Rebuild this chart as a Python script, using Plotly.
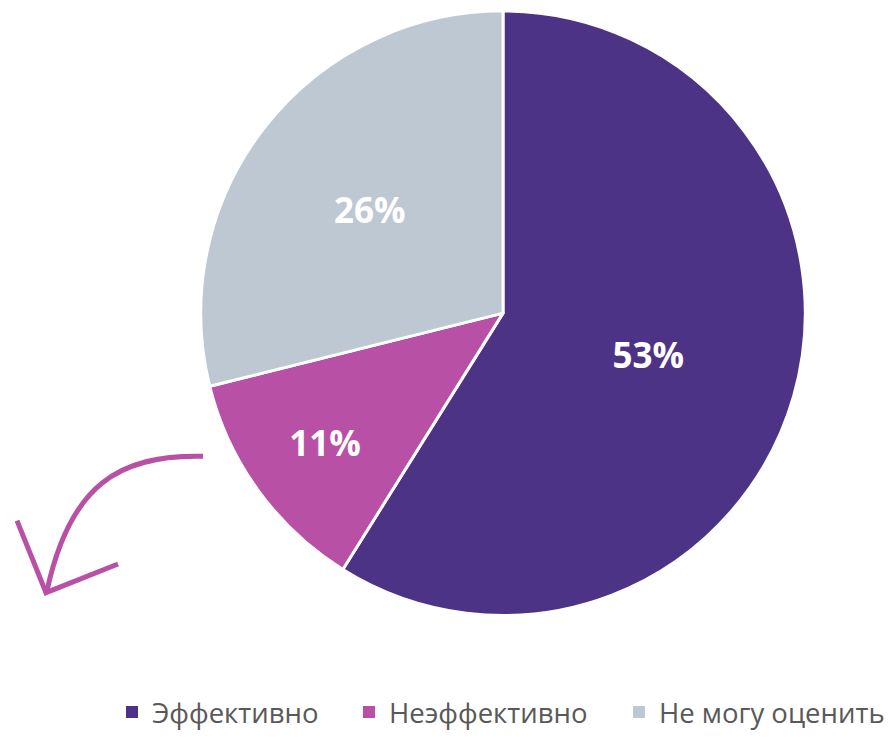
import plotly.graph_objects as go

labels = ["Эффективно", "Неэффективно", "Не могу оценить"]
values = [53, 11, 26]
colors = ["#4D3385", "#B851A5", "#BEC8D2"]

W, H = 892, 737

def px(x, y):
    return x / W, 1 - y / H

fig = go.Figure(go.Pie(
    labels=labels,
    values=values,
    sort=False,
    direction="clockwise",
    rotation=0,
    marker=dict(colors=colors, line=dict(color="white", width=3)),
    texttemplate="<b>%{value}%</b>",
    textposition="inside",
    insidetextorientation="horizontal",
    textfont=dict(family="Open Sans", size=35, color="white"),
    domain=dict(x=[197 / W, 809 / W], y=[1 - 623 / H, 1 - 11 / H]),
    hoverinfo="label+value",
    showlegend=False,
))

# legend entries (one legend per category so spacing can match the reference)
legend_text_x = [152, 389, 659]
legend_names = ["legend", "legend2", "legend3"]
legend_layout = {}
for lab, col, lx, ln in zip(labels, colors, legend_text_x, legend_names):
    fig.add_trace(go.Scatter(
        x=[None], y=[None], mode="markers", name=lab,
        marker=dict(symbol="square", size=12, color=col),
        showlegend=True, legend=ln, hoverinfo="skip",
    ))
    legend_layout[ln] = dict(
        orientation="h",
        x=(lx - 40) / W, xanchor="left",
        y=1 - 721 / H, yanchor="middle",
        font=dict(family="Open Sans", size=27.5, color="#595959"),
        bgcolor="rgba(0,0,0,0)",
    )

# decorative arrow
def pt(x, y):
    a, b = px(x, y)
    return f"{a:.5f},{b:.5f}"

arrow_color = "#B851A5"
fig.add_shape(type="path", xref="paper", yref="paper",
              path=f"M {pt(203,462)} C {pt(120,460)} {pt(70,490)} {pt(47,598)}",
              line=dict(color=arrow_color, width=5))
fig.add_shape(type="path", xref="paper", yref="paper",
              path=f"M {pt(17,527)} L {pt(46,600)} L {pt(118,571)}",
              line=dict(color=arrow_color, width=5))

fig.update_layout(
    width=W, height=H,
    margin=dict(l=0, r=0, t=0, b=0),
    paper_bgcolor="white",
    plot_bgcolor="white",
    xaxis=dict(visible=False),
    yaxis=dict(visible=False),
    **legend_layout,
)

fig.write_html("out.html", config={"displayModeBar": False},
               post_script="document.body.style.margin='0';")
